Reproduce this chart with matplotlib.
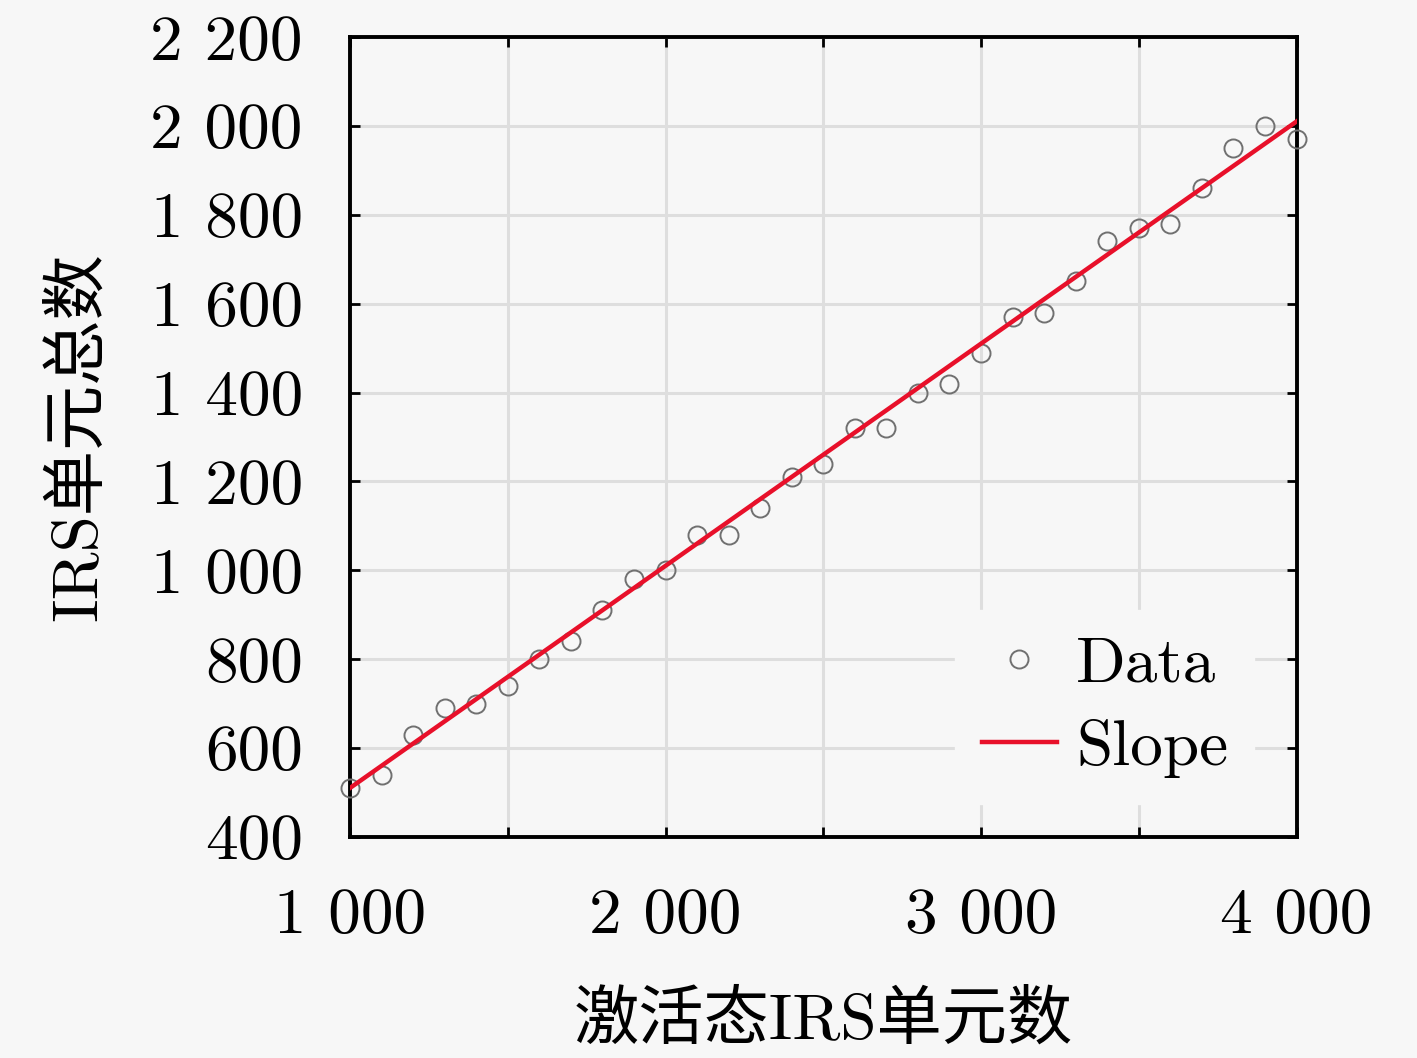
import matplotlib

matplotlib.use("Agg")

import matplotlib.pyplot as plt
from matplotlib.ticker import FixedLocator, FixedFormatter

plt.rcParams["font.family"] = ["cmr10", "Noto Sans CJK SC"]
plt.rcParams["axes.unicode_minus"] = False
plt.rcParams["mathtext.fontset"] = "cm"

# 读图估计的数据点
active_units = [1000, 1100, 1200, 1300, 1400, 1500, 1600, 1700, 1800, 1900,
                2000, 2100, 2200, 2300, 2400, 2500, 2600, 2700, 2800, 2900,
                3000, 3100, 3200, 3300, 3400, 3500, 3600, 3700, 3800, 3900, 4000]
total_units = [510, 540, 630, 690, 700, 740, 800, 840, 910, 980,
               1000, 1080, 1080, 1140, 1210, 1240, 1320, 1320, 1400, 1420,
               1490, 1570, 1580, 1650, 1740, 1770, 1780, 1860, 1950, 2000, 1970]

# 拟合直线端点
slope_x = [1000, 4000]
slope_y = [510, 2010]

x_ticks = [1000, 2000, 3000, 4000]
x_tick_labels = ["1 000", "2 000", "3 000", "4 000"]
y_ticks = [400, 600, 800, 1000, 1200, 1400, 1600, 1800, 2000, 2200]
y_tick_labels = ["400", "600", "800", "1 000", "1 200", "1 400",
                 "1 600", "1 800", "2 000", "2 200"]

bg = "#f7f7f7"
fs = 47
fig = plt.figure(figsize=(14.17, 10.58), dpi=100, facecolor=bg)
ax = fig.add_axes([0.247, 0.209, 0.668, 0.756], facecolor=bg)

ax.plot(active_units, total_units, linestyle="none", marker="o", markersize=13,
        markerfacecolor="none", markeredgecolor="#707070", markeredgewidth=1.4,
        label="Data", zorder=3, clip_on=False)
ax.plot(slope_x, slope_y, color="#e8102a", linewidth=3.2, label="Slope", zorder=4)

ax.set_xlim(1000, 4000)
ax.set_ylim(400, 2200)
ax.xaxis.set_major_locator(FixedLocator(x_ticks))
ax.xaxis.set_major_formatter(FixedFormatter(x_tick_labels))
ax.yaxis.set_major_locator(FixedLocator(y_ticks))
ax.yaxis.set_major_formatter(FixedFormatter(y_tick_labels))

ax.set_xticks([1500, 2500, 3500], minor=True)
ax.grid(True, which="both", color="#dedede", linewidth=2.2, zorder=0)
ax.set_axisbelow(True)

ax.tick_params(axis="both", which="both", direction="in", top=True, right=True,
               length=7, width=2, labelsize=fs, colors="black")
ax.tick_params(axis="x", which="major", pad=37)
ax.tick_params(axis="y", which="major", pad=34)
for spine in ax.spines.values():
    spine.set_linewidth(2.8)

ax.set_xlabel("激活态IRS单元数", fontsize=fs, labelpad=32)
ax.set_ylabel("IRS单元总数", fontsize=fs, labelpad=30)

leg = ax.legend(loc="lower right", fontsize=fs, frameon=True, facecolor=bg,
                edgecolor=bg, framealpha=1.0, handlelength=1.15, handletextpad=0.3,
                labelspacing=0.37, borderpad=0.4, bbox_to_anchor=(0.99, 0.0))

fig.savefig("out.png", dpi=100, facecolor=bg)
